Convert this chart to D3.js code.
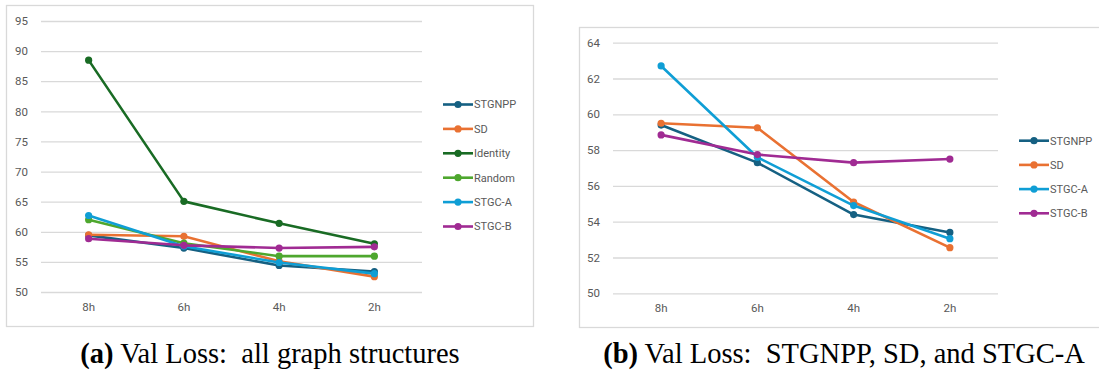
<!DOCTYPE html>
<html lang="en">
	<head>
		<meta charset="utf-8">
		<title>Val Loss</title>
		<script src="https://cdn.jsdelivr.net/npm/d3@7"></script>
		<style>
			body { margin: 0; background: #fff; }
			svg { display: block; }
		</style>
	</head>
	<body>
		<script>

			//Data
			var hours = ["8h", "6h", "4h", "2h"];
			var leftTicks = [50, 55, 60, 65, 70, 75, 80, 85, 90, 95];
			var rightTicks = [50, 52, 54, 56, 58, 60, 62, 64];

			var stgnpp = [59.4, 57.3, 54.4, 53.4];
			var sd = [59.5, 59.25, 55.1, 52.55];
			var identity = [88.5, 65.05, 61.4, 58.0];
			var random = [62.0, 58.1, 55.95, 55.95];
			var stgcA = [62.7, 57.6, 54.9, 53.05];
			var stgcB = [58.85, 57.75, 57.3, 57.5];

			var captionA = ["(a)", " Val Loss:  all graph structures"];
			var captionB = ["(b)", " Val Loss:  STGNPP, SD, and STGC-A"];

			//Office theme colours
			var colors = {
				"STGNPP": "#156082",
				"SD": "#e97132",
				"Identity": "#196b24",
				"Random": "#4ea72e",
				"STGC-A": "#0f9ed5",
				"STGC-B": "#a02b93"
			};

			var leftSeries = [
				{ name: "STGNPP", values: stgnpp },
				{ name: "SD", values: sd },
				{ name: "Identity", values: identity },
				{ name: "Random", values: random },
				{ name: "STGC-A", values: stgcA },
				{ name: "STGC-B", values: stgcB }
			];
			var rightSeries = [
				{ name: "STGNPP", values: stgnpp },
				{ name: "SD", values: sd },
				{ name: "STGC-A", values: stgcA },
				{ name: "STGC-B", values: stgcB }
			];

			var w = 1099;
			var h = 379;

			var svg = d3.select("body")
						.append("svg")
						.attr("width", w)
						.attr("height", h);

			function drawChart(cfg) {
				var g = svg.append("g");

				//chart area border
				g.append("rect")
				 .attr("x", cfg.box[0] + 0.5)
				 .attr("y", cfg.box[1] + 0.5)
				 .attr("width", cfg.box[2])
				 .attr("height", cfg.box[3])
				 .attr("fill", "#fff")
				 .attr("stroke", "#d9d9d9")
				 .attr("stroke-width", 1.3);

				var x = d3.scaleBand()
						  .domain(hours)
						  .range([cfg.plot[0], cfg.plot[1]]);
				var y = d3.scaleLinear()
						  .domain(d3.extent(cfg.ticks))
						  .range([cfg.plot[3], cfg.plot[2]]);

				//gridlines + y labels
				var yAxis = d3.axisLeft(y)
							  .tickValues(cfg.ticks)
							  .tickSize(-(cfg.plot[1] - cfg.plot[0]))
							  .tickPadding(13);
				var ya = g.append("g")
						  .attr("transform", "translate(" + cfg.plot[0] + ",0)")
						  .call(yAxis);
				ya.select(".domain").remove();
				ya.selectAll("line").attr("stroke", "#d9d9d9").attr("stroke-width", 1.3);
				ya.selectAll("text")
				  .attr("fill", "#595959")
				  .style("font-family", "Roboto, sans-serif")
				  .style("font-size", "11.5px");

				//x labels
				var xAxis = d3.axisBottom(x).tickSize(0).tickPadding(11);
				var xa = g.append("g")
						  .attr("transform", "translate(0," + cfg.plot[3] + ")")
						  .call(xAxis);
				xa.select(".domain").remove();
				xa.selectAll("text")
				  .attr("fill", "#595959")
				  .style("font-family", "Roboto, sans-serif")
				  .style("font-size", "11.5px");

				var cx = function(d, i) { return x(hours[i]) + x.bandwidth() / 2; };
				var line = d3.line()
							 .x(cx)
							 .y(function(d) { return y(d); });

				var s = g.selectAll(".series")
						 .data(cfg.series)
						 .enter()
						 .append("g");
				s.append("path")
				 .attr("d", function(d) { return line(d.values); })
				 .attr("fill", "none")
				 .attr("stroke", function(d) { return colors[d.name]; })
				 .attr("stroke-width", 2.6)
				 .attr("stroke-linejoin", "round");
				s.selectAll("circle")
				 .data(function(d) { return d.values.map(function(v) { return { v: v, c: colors[d.name] }; }); })
				 .enter()
				 .append("circle")
				 .attr("cx", cx)
				 .attr("cy", function(d) { return y(d.v); })
				 .attr("r", 3.6)
				 .attr("fill", function(d) { return d.c; });

				//legend
				var lg = g.selectAll(".legend")
						  .data(cfg.series)
						  .enter()
						  .append("g")
						  .attr("transform", function(d, i) {
							  return "translate(" + cfg.legend[0] + "," + (cfg.legend[1] + i * cfg.legend[2]) + ")";
						  });
				lg.append("line")
				  .attr("x1", 0).attr("x2", 30)
				  .attr("stroke", function(d) { return colors[d.name]; })
				  .attr("stroke-width", 2.6);
				lg.append("circle")
				  .attr("cx", 15)
				  .attr("r", 3.6)
				  .attr("fill", function(d) { return colors[d.name]; });
				lg.append("text")
				  .attr("x", 31)
				  .attr("dy", "0.36em")
				  .attr("fill", "#595959")
				  .style("font-family", "Roboto, sans-serif")
				  .style("font-size", "11px")
				  .text(function(d) { return d.name; });

				//caption
				var cap = svg.append("text")
							 .attr("x", cfg.caption[0])
							 .attr("y", cfg.caption[1])
							 .attr("text-anchor", "middle")
							 .style("font-family", "'Liberation Serif', 'Times New Roman', serif")
							 .style("font-size", "28.5px")
							 .attr("fill", "#000")
							 .attr("xml:space", "preserve");
				cap.append("tspan").style("font-weight", "bold").text(cfg.captionText[0]);
				cap.append("tspan").text(cfg.captionText[1]);
			}

			drawChart({
				box: [6, 5, 527, 321],
				plot: [41, 422, 21, 292],
				ticks: leftTicks,
				series: leftSeries,
				legend: [443, 104.5, 24.4],
				caption: [270, 363],
				captionText: captionA
			});

			drawChart({
				box: [579, 27, 540, 300],
				plot: [613, 998, 42.7, 293.3],
				ticks: rightTicks,
				series: rightSeries,
				legend: [1019, 140.7, 24.2],
				caption: [844, 363],
				captionText: captionB
			});

		</script>
	</body>
</html>
